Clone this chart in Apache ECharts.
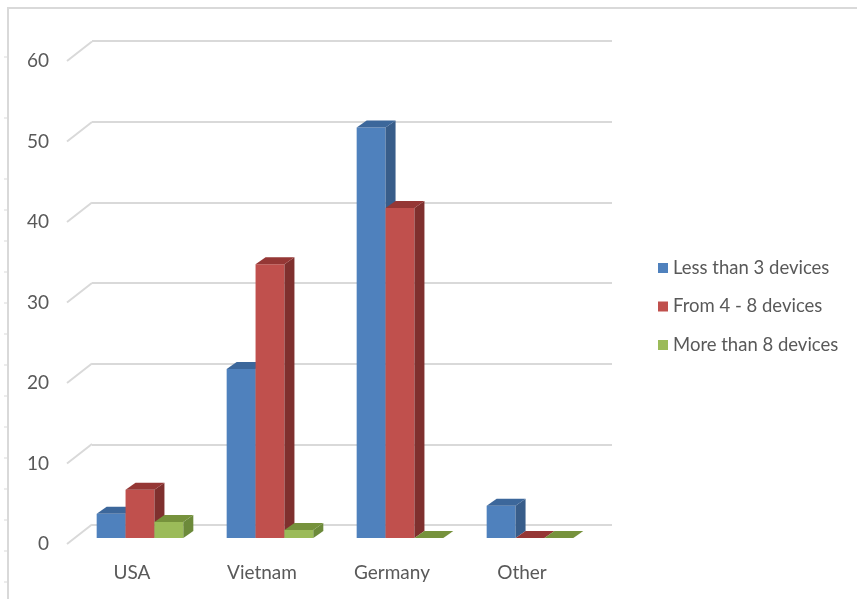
<!DOCTYPE html>
<html>
<head>
<meta charset="utf-8">
<title>Devices per household by country</title>
<script src="https://cdn.jsdelivr.net/npm/echarts@6/dist/echarts.min.js"></script>
<style>
  html, body { margin: 0; padding: 0; background: #ffffff; }
  #chart { width: 857px; height: 599px; }
</style>
</head>
<body>
<div id="chart"></div>
<script>
// ---- data ----
const categories = ['USA', 'Vietnam', 'Germany', 'Other'];
const seriesNames = ['Less than 3 devices', 'From 4 - 8 devices', 'More than 8 devices'];
const lessThan3 = [3, 21, 51, 4];
const from4to8 = [6, 34, 41, 0];
const moreThan8 = [2, 1, 0, 0];
const yTicks = [0, 10, 20, 30, 40, 50, 60];

// ---- styling ----
const TEXT = '#595959';
const GRID_LINE = '#d9d9d9';
const FONT = 'Lato, "Open Sans", sans-serif';
const FONT_SIZE = 19;
const LEGEND_FONT_SIZE = 18.5;
// front / side / top face colours for each series
const faces = [
  { front: '#4f81bd', side: '#385d8a', top: '#3c679b' },
  { front: '#c0504d', side: '#7f302e', top: '#953735' },
  { front: '#9bbb59', side: '#6c8a3a', top: '#76923c' }
];
const BAR_FRAC = 0.2222;     // bar width as share of a category band
const BAR_DX = 10, BAR_DY = 7; // bar depth (oblique projection)
const WALL_DX = 25, WALL_DY = 19.5; // floor depth from front plane to back wall

function barRenderer(sIdx) {
  return function (params, api) {
    const ci = api.value(0);
    const v = api.value(1);
    const base = api.coord([ci, 0]);
    const top = api.coord([ci, v]);
    const band = api.size([1, 0])[0];
    const w = band * BAR_FRAC;
    const x0 = base[0] + (sIdx - 1) * w - w / 2;
    const x1 = x0 + w;
    const yb = base[1];
    const yt = top[1];
    const c = faces[sIdx];
    const children = [];
    if (yb - yt > 0.5) {
      children.push({
        type: 'rect',
        shape: { x: x0, y: yt, width: w, height: yb - yt },
        style: { fill: c.front }
      });
      children.push({
        type: 'polygon',
        shape: { points: [[x1, yt], [x1, yb], [x1 + BAR_DX, yb - BAR_DY], [x1 + BAR_DX, yt - BAR_DY]] },
        style: { fill: c.side }
      });
    }
    children.push({
      type: 'polygon',
      shape: { points: [[x0, yt], [x1, yt], [x1 + BAR_DX, yt - BAR_DY], [x0 + BAR_DX, yt - BAR_DY]] },
      style: { fill: c.top }
    });
    return { type: 'group', children: children };
  };
}

function seriesData(values) {
  return values.map((v, i) => [i, v]);
}

const valueSets = [lessThan3, from4to8, moreThan8];

// short ruler marks along the left frame edge
const rulerYs = [57, 118, 179, 210, 241, 272, 303, 334, 365, 396, 427, 458, 489, 520, 551, 582];
const frameGraphics = [
  { type: 'polyline', shape: { points: [[8, 599], [8, 8], [857, 8]] }, style: { stroke: GRID_LINE, lineWidth: 2, fill: null }, z: 0 }
].concat(rulerYs.map(y => ({
  type: 'line', shape: { x1: 4, y1: y, x2: 8, y2: y }, style: { stroke: GRID_LINE, lineWidth: 1 }, z: 0
})));

const chart = echarts.init(document.getElementById('chart'), null, { renderer: 'canvas' });

chart.setOption({
  backgroundColor: '#ffffff',
  animation: false,
  textStyle: { fontFamily: FONT },
  graphic: frameGraphics,
  legend: {
    orient: 'vertical',
    left: 653,
    top: 252,
    itemWidth: 10,
    itemHeight: 10,
    itemGap: 16.5,
    itemTextGap: 6,
    icon: 'rect',
    textStyle: { color: TEXT, fontSize: LEGEND_FONT_SIZE, fontFamily: FONT, lineHeight: 22 },
    data: seriesNames
  },
  grid: [
    // bar plane
    { left: 75, top: 55, width: 520, height: 483 },
    // back wall
    { left: 92, top: 41, width: 520, height: 484 },
    // front plane (labels)
    { left: 67, top: 61, width: 520, height: 483 }
  ],
  xAxis: [
    { gridIndex: 0, type: 'category', data: categories, show: false },
    { gridIndex: 1, type: 'category', data: categories, show: false },
    {
      gridIndex: 2, type: 'category', data: categories,
      axisLine: { show: false }, axisTick: { show: false },
      axisLabel: { color: TEXT, fontSize: FONT_SIZE, margin: 19, fontFamily: FONT }
    }
  ],
  yAxis: [
    { gridIndex: 0, type: 'value', min: 0, max: 60, interval: 10, show: false },
    {
      gridIndex: 1, type: 'value', min: 0, max: 60, interval: 10,
      axisLine: { show: false }, axisTick: { show: false }, axisLabel: { show: false },
      splitLine: { show: true, lineStyle: { color: GRID_LINE, width: 2 } }
    },
    {
      gridIndex: 2, type: 'value', min: 0, max: 60, interval: 10,
      axisLine: { show: false }, axisTick: { show: false },
      splitLine: { show: false },
      axisLabel: { color: TEXT, fontSize: FONT_SIZE, margin: 18, fontFamily: FONT }
    }
  ],
  series: [
    // floor-to-wall connectors for each gridline
    {
      type: 'custom',
      xAxisIndex: 2, yAxisIndex: 2,
      silent: true,
      data: yTicks.map(v => [0, v]),
      renderItem: function (params, api) {
        const p = api.coord([0, api.value(1)]);
        const x = params.coordSys.x;
        return {
          type: 'line',
          shape: { x1: x, y1: p[1], x2: x + WALL_DX, y2: p[1] - WALL_DY },
          style: { stroke: GRID_LINE, lineWidth: 2 }
        };
      },
      z: 1
    }
  ].concat(valueSets.map((vals, i) => ({
    name: seriesNames[i],
    type: 'custom',
    xAxisIndex: 0, yAxisIndex: 0,
    itemStyle: { color: faces[i].front },
    data: seriesData(vals),
    renderItem: barRenderer(i),
    z: 3
  })))
});
</script>
</body>
</html>
